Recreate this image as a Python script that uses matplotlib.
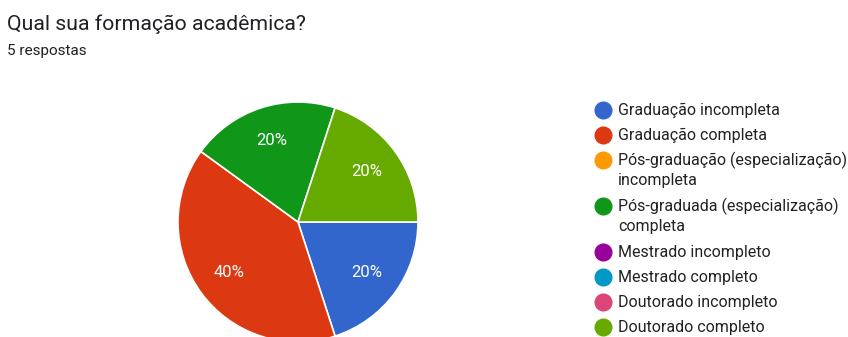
import textwrap
import matplotlib
matplotlib.use("Agg")
import matplotlib.pyplot as plt
from matplotlib.lines import Line2D

plt.rcParams['font.family'] = ['Roboto', 'DejaVu Sans']

title = "Qual sua formação acadêmica?"
subtitle = "5 respostas"
categories = [
    "Graduação incompleta",
    "Graduação completa",
    "Pós-graduação (especialização) incompleta",
    "Pós-graduada (especialização) completa",
    "Mestrado incompleto",
    "Mestrado completo",
    "Doutorado incompleto",
    "Doutorado completo",
]
counts = [1, 2, 0, 1, 0, 0, 0, 1]
colors = ["#3366cc", "#dc3912", "#ff9900", "#109618",
          "#990099", "#0099c6", "#dd4477", "#66aa00"]

W, H = 848, 337
fig = plt.figure(figsize=(W / 100, H / 100), dpi=100)

fig.text(7 / W, 1 - 30 / H, title, fontsize=15.3, color="#202124", va="baseline")
fig.text(7 / W, 1 - 55 / H, subtitle, fontsize=11, color="#202124", va="baseline")

# Pie
cx, cy, r = 298, 222, 120
ax = fig.add_axes([(cx - r) / W, (H - cy - r) / H, 2 * r / W, 2 * r / H])
vals = [c for c in counts if c > 0]
cols = [col for c, col in zip(counts, colors) if c > 0]
wedges, texts, autotexts = ax.pie(
    vals, colors=cols, startangle=0, counterclock=False, radius=1,
    autopct=lambda p: f"{p:.0f}%", pctdistance=0.71,
    wedgeprops=dict(edgecolor="white", linewidth=1.2),
    textprops=dict(color="white", fontsize=12))
ax.set_xlim(-1, 1)
ax.set_ylim(-1, 1)
ax.set_aspect("equal")
ax.axis("off")

# Legend (manual)
mx, tx = 603, 618
y = 110
for cat, col in zip(categories, colors):
    lines = textwrap.fill(cat, width=30).split("\n")
    fig.add_artist(Line2D([mx / W], [1 - y / H], marker="o", markersize=12,
                          color=col, linestyle="none", transform=fig.transFigure))
    for i, ln in enumerate(lines):
        fig.text(tx / W, 1 - (y + 5 + 20 * i) / H, ln, fontsize=11.5,
                 color="#222222", va="baseline", ha="left")
    y += 25 + 21 * (len(lines) - 1)

fig.savefig("out.png", dpi=100)
